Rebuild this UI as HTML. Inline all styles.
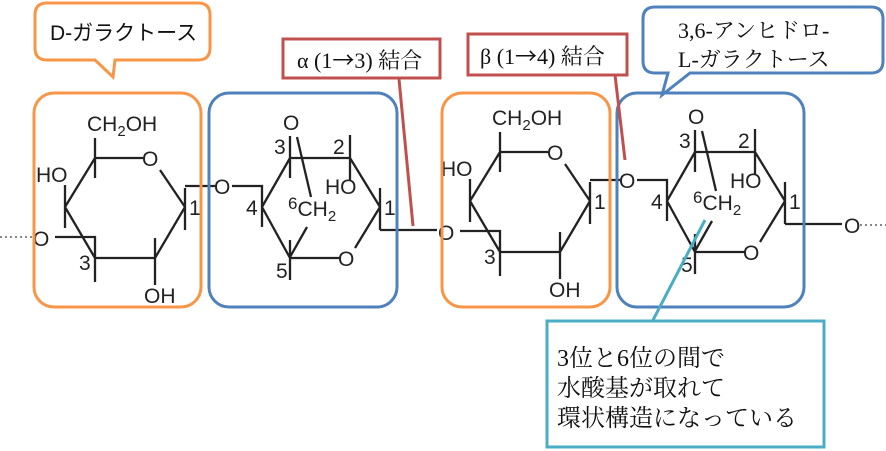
<!DOCTYPE html>
<html><head><meta charset="utf-8"><style>
html,body{margin:0;padding:0;background:#fff;width:886px;height:451px;overflow:hidden}
svg{display:block}
.c{font-family:"Liberation Sans",sans-serif;font-size:21px;fill:#222}
.s{font-family:"Liberation Serif","Noto Serif CJK JP",serif;fill:#111}
</style></head><body>
<svg width="886" height="451" viewBox="0 0 886 451" xmlns="http://www.w3.org/2000/svg">
<defs>
<g id="gal" stroke="#222" stroke-width="2.3" fill="none">
  <path d="M95,138 V178 M95,158 H143 M160,170 L185,207 M185,188 V230 M185,186 H215 M185,207 L155,258 M155,238 V285 M155,258 H95 M95,238 V282 M95,258 L65,207 M65,185 V228 M65,207 L95,158 M55,237 H95 V258"/>
</g>
<g id="anh" stroke="#222" stroke-width="2.3" fill="none">
  <path d="M290,136 V178 M297,137 L311,197 M290,158 H350 M350,135 V180 M350,158 L380,207 M380,188 V230 M380,207 L355,248 M340,258 H290 M290,240 V280 M290,258 L262,207 M262,185 V227 M262,207 L290,158 M290,257 L307,227 M232,186 H262 V207 M380,230 H437"/>
</g>
<g id="galt">
<text class="c" x="87" y="131">CH<tspan font-size="15" dy="5">2</tspan><tspan dy="-5">OH</tspan></text>
<text class="c" x="142" y="166">O</text>
<text class="c" x="189" y="215">1</text>
<text class="c" x="144" y="303">OH</text>
<text class="c" x="79" y="270">3</text>
<text class="c" x="36" y="182">HO</text>
<text class="c" x="33" y="246">O</text>
<text class="c" x="214" y="194">O</text>
</g>
<g id="anht">
<text class="c" x="283" y="130">O</text>
<text class="c" x="274" y="154">3</text>
<text class="c" x="333" y="154">2</text>
<text class="c" x="325" y="194">HO</text>
<text class="c" x="384" y="215">1</text>
<text class="c" x="338" y="266">O</text>
<text class="c" x="276" y="278">5</text>
<text class="c" x="246" y="215">4</text>
<text class="c" x="288" y="209"><tspan font-size="17">6</tspan><tspan dy="7">CH</tspan><tspan font-size="15" dy="5">2</tspan></text>
</g>
</defs>
<line x1="0" y1="237" x2="33" y2="237" stroke="#888" stroke-width="2" stroke-dasharray="2,3"/>
<use href="#gal"/><use href="#galt"/>
<use href="#anh"/><use href="#anht"/>
<g transform="translate(405,-6)">
<use href="#gal"/><use href="#galt"/>
<use href="#anh"/><use href="#anht"/>
<text class="c" x="439" y="239">O</text>
</g>
<line x1="860" y1="225" x2="886" y2="225" stroke="#888" stroke-width="2" stroke-dasharray="2,3"/>
<rect x="34" y="93" width="167" height="214" rx="20" fill="none" stroke="#f79646" stroke-width="3"/>
<rect x="209" y="93" width="188" height="214" rx="20" fill="none" stroke="#4f81bd" stroke-width="3"/>
<rect x="442" y="93" width="168" height="214" rx="20" fill="none" stroke="#f79646" stroke-width="3"/>
<rect x="617" y="93" width="187" height="214" rx="20" fill="none" stroke="#4f81bd" stroke-width="3"/>
<path d="M47,3 H198 Q210,3 210,15 V48 Q210,60 198,60 H115 L113,77 L95,60 H47 Q35,60 35,48 V15 Q35,3 47,3 Z" fill="#fff" stroke="#f79646" stroke-width="3"/>
<text x="50" y="40" font-family="Liberation Sans,'Noto Sans CJK JP',sans-serif" font-size="21" fill="#111">D-ガラクトース</text>
<line x1="399" y1="79" x2="413" y2="226" stroke="#c0504d" stroke-width="3"/>
<rect x="283" y="39" width="157" height="39" fill="#fff" stroke="#c0504d" stroke-width="3"/>
<text class="s" x="297" y="68" font-size="22">α (1<tspan font-family="'Noto Sans CJK JP',sans-serif">→</tspan>3) 結合</text>
<line x1="615" y1="75" x2="625" y2="160" stroke="#c0504d" stroke-width="3"/>
<rect x="468" y="34" width="159" height="41" fill="#fff" stroke="#c0504d" stroke-width="3"/>
<text class="s" x="480" y="64" font-size="22">β (1<tspan font-family="'Noto Sans CJK JP',sans-serif">→</tspan>4) 結合</text>
<path d="M655,7 H871 Q883,7 883,19 V61 Q883,73 871,73 H690 L662,95 L668,73 H655 Q643,73 643,61 V19 Q643,7 655,7 Z" fill="#fff" stroke="#4f81bd" stroke-width="3"/>
<text class="s" x="678" y="38" font-size="22">3,6-アンヒドロ-</text>
<text class="s" x="678" y="67" font-size="22">L-ガラクトース</text>
<line x1="705" y1="220" x2="652" y2="322" stroke="#4bacc6" stroke-width="3"/>
<rect x="547" y="321" width="277" height="126" fill="#fff" stroke="#4bacc6" stroke-width="3"/>
<text class="s" x="557" y="366" font-size="24">3位と6位の間で</text>
<text class="s" x="557" y="396" font-size="24">水酸基が取れて</text>
<text class="s" x="557" y="426" font-size="24">環状構造になっている</text>
</svg>
</body></html>
